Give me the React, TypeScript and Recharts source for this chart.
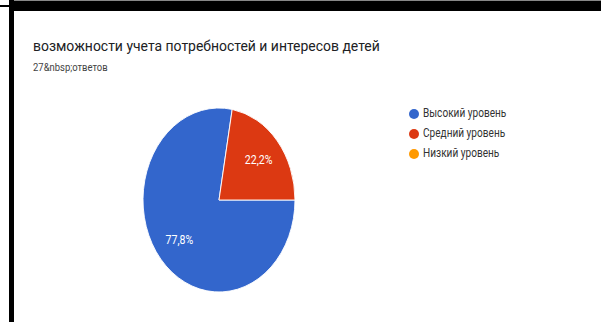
import { PieChart, Pie, Cell, Legend } from 'recharts';

const categories = ['Высокий уровень', 'Средний уровень', 'Низкий уровень'];
const counts = [21, 6, 0];
const colors = ['#3366cc', '#dc3912', '#ff9900'];
const title = 'возможности учета потребностей и интересов детей';
const subtitle = '27&nbsp;ответов';

const data = categories.map((name, i) => ({ name, value: counts[i] }));

const CX = 219;
const CY = 200;
const SQUEEZE = 0.826;
const RAD = Math.PI / 180;

function renderLabel(props: any) {
  const { cx, cy, midAngle, outerRadius, percent, value } = props;
  if (!value) return null;
  const r = outerRadius * 0.68;
  const x = cx + r * Math.cos(-midAngle * RAD) * SQUEEZE;
  const y = cy + r * Math.sin(-midAngle * RAD);
  return (
    <text
      transform={`translate(${x},${y}) scale(0.88,1)`}
      fill="#fff"
      fontSize={12}
      fontFamily="Roboto"
      textAnchor="middle"
      dominantBaseline="central"
    >
      {(percent * 100).toFixed(1).replace('.', ',') + '%'}
    </text>
  );
}

export default function App() {
  return (
    <div
      style={{
        position: 'absolute',
        left: 0,
        top: 0,
        width: 601,
        height: 322,
        background: '#fff',
        fontFamily: 'Roboto',
        overflow: 'hidden',
      }}
    >
      <style>{`.recharts-pie-sector { transform: scaleX(${SQUEEZE}); transform-box: view-box; transform-origin: ${CX}px ${CY}px; }`}</style>
      {/* frame */}
      <div style={{ position: 'absolute', left: 14, top: 0, width: 587, height: 1, background: '#888' }} />
      <div style={{ position: 'absolute', left: 14, top: 1, width: 587, height: 10, background: '#000' }} />
      <div style={{ position: 'absolute', left: 9, top: 0, width: 5, height: 322, background: '#000' }} />
      <div style={{ position: 'absolute', left: 0, top: 5, width: 9, height: 2, background: '#000' }} />

      <div
        style={{
          position: 'absolute',
          left: 33,
          top: 37,
          fontSize: 15,
          color: '#202124',
          whiteSpace: 'nowrap',
          transform: 'scaleX(0.93)',
          transformOrigin: 'left',
        }}
      >
        {title}
      </div>
      <div
        style={{
          position: 'absolute',
          left: 33,
          top: 61,
          fontSize: 11,
          color: '#444',
          whiteSpace: 'nowrap',
          transform: 'scaleX(0.86)',
          transformOrigin: 'left',
        }}
      >
        {subtitle}
      </div>

      <div style={{ position: 'absolute', left: 0, top: 0 }}>
        <PieChart width={601} height={322} margin={{ top: 0, right: 0, bottom: 0, left: 0 }}>
          <Pie
            data={data}
            dataKey="value"
            nameKey="name"
            cx={CX}
            cy={CY}
            outerRadius={92}
            startAngle={80}
            endAngle={440}
            stroke="#fff"
            strokeWidth={1}
            label={renderLabel}
            labelLine={false}
            isAnimationActive={false}
          >
            {data.map((d, i) => (
              <Cell key={d.name} fill={colors[i]} />
            ))}
          </Pie>
          <Legend
            layout="vertical"
            align="right"
            verticalAlign="top"
            iconType="circle"
            iconSize={10}
            itemSorter={(item: any) => categories.indexOf(item.value)}
            wrapperStyle={{ left: 409, top: 103, width: 150, fontSize: 12, lineHeight: '20px' }}
            formatter={(v: string) => (
              <span
                style={{
                  color: '#333',
                  display: 'inline-block',
                  transform: 'scaleX(0.84)',
                  transformOrigin: 'left',
                }}
              >
                {v}
              </span>
            )}
          />
        </PieChart>
      </div>
    </div>
  );
}
